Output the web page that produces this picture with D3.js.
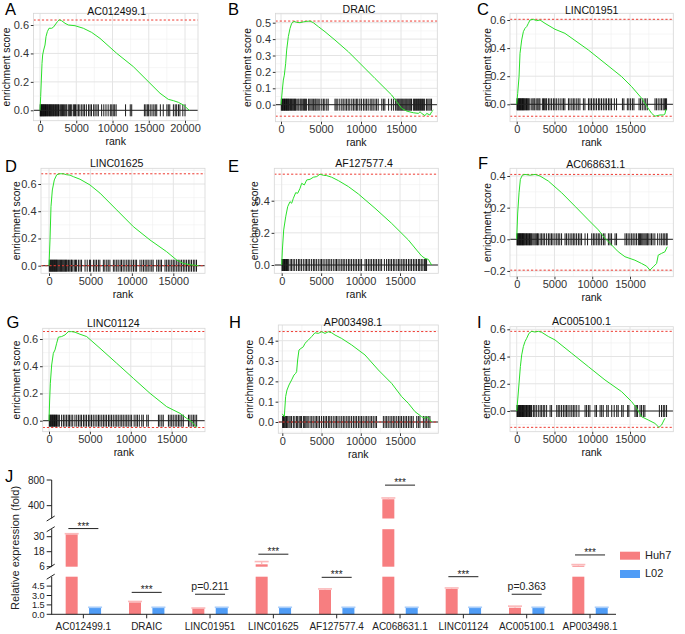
<!DOCTYPE html>
<html><head><meta charset="utf-8">
<script src="https://cdn.jsdelivr.net/npm/d3@7"></script>
<style>
body{margin:0;background:#fff;}
svg{display:block;}
</style></head><body>
<svg id="chart" width="685" height="634"></svg>
<script>
// ================= DATA =================
const gseaTitles = ["AC012499.1","DRAIC","LINC01951","LINC01625","AF127577.4","AC068631.1","LINC01124","AP003498.1","AC005100.1"];
const gseaLetters = ["A","B","C","D","E","F","G","H","I"];

// running enrichment score curves: [rank, ES]
const curveA = [[0,0],[92,0.096],[184,0.213],[276,0.33],[368,0.389],[506,0.424],[690,0.459],[828,0.518],[1012,0.553],[1241,0.577],[1609,0.577],[1839,0.584],[2069,0.6],[2391,0.623],[2667,0.637],[2989,0.63],[3449,0.612],[3908,0.6],[4828,0.595],[5977,0.577],[7127,0.548],[8276,0.506],[10575,0.401],[12874,0.307],[15173,0.19],[16553,0.12],[17702,0.077],[18392,0.068],[19082,0.056],[19771,0.037],[20599,0]];
const curveB = [[0,0],[167,0.089],[292,0.15],[417,0.18],[583,0.252],[708,0.333],[917,0.415],[1125,0.465],[1333,0.496],[1625,0.508],[1958,0.502],[2375,0.5],[2792,0.505],[3208,0.508],[3625,0.51],[4042,0.5],[4667,0.476],[5500,0.445],[6750,0.394],[8417,0.323],[9667,0.262],[11750,0.16],[13833,0.059],[14460,0.018],[15083,-0.022],[15710,-0.039],[16540,-0.049],[17170,-0.053],[17380,-0.043],[17590,-0.053],[18000,-0.067],[18210,-0.053],[18620,-0.063],[18830,-0.043],[19040,-0.033]];
const curveC = [[0,0],[132,0.078],[309,0.197],[441,0.363],[662,0.458],[882,0.517],[1102,0.541],[1323,0.553],[1543,0.576],[1764,0.6],[2205,0.605],[2646,0.595],[3087,0.6],[3750,0.576],[5070,0.534],[6390,0.505],[9480,0.387],[11690,0.292],[13890,0.197],[15215,0.126],[16540,0.043],[17200,-0.012],[17860,-0.064],[18300,-0.085],[18960,-0.076],[19400,-0.076],[19620,-0.07],[19760,-0.035]];
const curveD = [[0,0],[121,0.189],[241,0.434],[402,0.556],[643,0.63],[925,0.667],[1246,0.675],[1729,0.675],[2131,0.668],[2533,0.665],[2935,0.654],[3740,0.635],[4946,0.593],[6152,0.533],[8163,0.41],[10173,0.287],[12184,0.189],[14194,0.103],[15400,0.042],[16205,0.017],[17009,0.007],[17813,0.002],[18014,0]];
const curveE = [[0,0],[85,0.093],[254,0.218],[507,0.3],[760,0.363],[1056,0.394],[1268,0.384],[1479,0.415],[1775,0.45],[2028,0.446],[2324,0.477],[2535,0.508],[2873,0.498],[3169,0.529],[3592,0.533],[4014,0.546],[4437,0.55],[4859,0.565],[5281,0.558],[5704,0.556],[6338,0.546],[7183,0.525],[8450,0.488],[9718,0.442],[11830,0.353],[13943,0.259],[16055,0.156],[17111,0.093],[17745,0.056],[18168,0.041],[18590,0.035],[19013,0]];
const curveF = [[0,0],[132,0.166],[309,0.294],[485,0.379],[750,0.405],[1102,0.41],[1764,0.405],[2426,0.41],[3087,0.4],[4190,0.368],[5954,0.294],[7718,0.209],[9482,0.123],[10800,0.06],[11690,0.006],[12570,-0.036],[13450,-0.079],[14330,-0.11],[15650,-0.132],[16540,-0.153],[17200,-0.17],[17640,-0.195],[18080,-0.174],[18520,-0.153],[18740,-0.1],[19180,-0.089],[19620,-0.079],[19930,-0.047]];
const curveG = [[0,0],[82,0.152],[163,0.275],[326,0.409],[530,0.495],[734,0.52],[938,0.569],[1141,0.613],[1549,0.618],[1956,0.63],[2364,0.654],[2772,0.654],[3180,0.65],[3791,0.635],[4606,0.618],[6236,0.532],[8274,0.422],[10312,0.311],[12350,0.201],[14388,0.103],[16019,0.054],[16834,0.017],[17445,-0.007],[18056,-0.05]];
const curveH = [[0,0.04],[255,0.026],[425,0.125],[595,0.157],[850,0.182],[1190,0.207],[1487,0.231],[1700,0.239],[1827,0.248],[1955,0.305],[2125,0.354],[2379,0.362],[2677,0.37],[2889,0.387],[3314,0.403],[3739,0.42],[4164,0.439],[4589,0.436],[5014,0.444],[5439,0.436],[5864,0.444],[6289,0.439],[6713,0.428],[7563,0.411],[8838,0.379],[10537,0.33],[12237,0.256],[13937,0.19],[15212,0.125],[16061,0.092],[16911,0.051],[17761,0.026],[18186,0.018],[18400,0.026],[18696,0.018],[19036,0]];
const curveI = [[0,0],[132,0.081],[309,0.203],[485,0.326],[662,0.412],[882,0.473],[1102,0.51],[1323,0.534],[1632,0.571],[1985,0.585],[2426,0.58],[2867,0.585],[3308,0.578],[4190,0.547],[5070,0.522],[7277,0.424],[9482,0.326],[11687,0.228],[13891,0.142],[15214,0.069],[15876,0.02],[16538,-0.042],[17420,-0.066],[18300,-0.091],[18830,-0.12],[19180,-0.103],[19620,-0.054]];

// gene-set hit ranks
const hitsA = [30,90,160,230,300,380,450,520,600,680,760,850,930,1020,1100,1200,1300,1380,1470,1560,1650,1750,1850,1950,2050,2150,2250,2350,2450,2550,2650,2850,2950,3100,3250,3400,3550,3680,3900,4050,4200,4370,4600,4750,4900,5100,5300,5500,5750,5950,6150,6400,6700,6900,7100,7400,7600,7850,8050,8500,8800,9100,9400,9700,9900,10100,10300,10500,11800,12450,12650,14400,14600,14800,14950,15200,15450,15700,15900,16100,16600,17000,17500,17700,17900,18400,18650,18850,19100,19300,19700,20000];
const hitsB = [40,120,200,280,360,440,520,600,680,760,840,920,1000,1100,1200,1300,1400,1500,1600,1700,1800,1900,2100,2230,2400,2520,2650,2800,2950,3050,3200,3450,3600,3750,3900,4050,4230,4350,4500,4650,4850,5100,5300,5480,5720,5900,6750,6900,7100,7350,7600,7780,8000,8200,8400,8600,8850,9050,9250,9450,9600,9850,10050,10300,10500,10700,10900,11150,11350,11520,11750,11950,12150,12600,12800,12980,13450,13800,14050,14300,14480,14600,14720,14850,14980,15100,15220,15350,15480,15600,15720,15850,15980,16100,16220,16320,16550,16680,16800,16930,17050,17180,17300,17430,17550,17680,17800,17950,18180,18350,18500,18650,18820];
const hitsC = [40,120,200,280,360,440,520,600,680,760,840,920,1000,1100,1200,1300,1400,1500,1600,1750,2000,2150,2300,2420,2660,2800,2950,3080,3400,3550,3700,3850,3960,4200,4400,4620,4860,5050,5250,5500,5750,6000,6200,6380,6850,7050,7300,7500,7700,7950,8150,8370,8830,9030,9500,9700,9900,10150,10350,10570,10820,11000,11230,11470,11700,11900,12150,12350,12560,12930,13220,14000,14190,14650,14850,15080,15320,15520,16200,16400,16630,16870,17080,17290,18310,18500,18730,18970,19180,19390,19550,19700,19840];
const hitsD = [40,120,200,280,360,440,520,600,680,760,840,920,1000,1100,1200,1300,1400,1500,1600,1700,1800,1900,2000,2100,2200,2350,2500,2650,2720,2870,3050,3200,3330,3550,3750,3930,4350,4610,4880,5020,5360,5550,5740,5960,6140,6560,6740,6970,7150,7350,7770,7950,8170,8350,8580,8750,8950,9160,9380,9570,9760,9990,10200,10400,10570,10980,11200,11400,11600,11800,11970,12190,12400,12570,13000,13200,13400,13580,14000,14200,14400,14590,14810,15000,15190,15410,15600,15800,16000,16210,16400,16600,16820,17000,17200,17420,17600,17800];
const hitsE = [40,120,200,280,360,440,520,600,680,760,840,1070,1250,1450,1650,1890,2120,2300,2500,2740,2970,3150,3350,3550,3790,4020,4200,4400,4640,4870,5050,5250,5480,5710,5900,6100,6300,6540,6770,6950,7150,7380,7610,7800,8000,8230,8460,8650,8860,9090,9300,9500,9730,9930,10130,10570,10760,10990,11200,11400,11630,11830,12030,12260,12470,12670,13020,13300,13530,13730,13930,14160,14350,14590,14800,14990,15220,15420,15620,15830,16070,16270,16470,16700,16900,17100,17330,17500,17700,17900,18100,18250,18370];
const hitsF = [40,120,200,280,360,440,520,600,680,760,840,920,1000,1100,1200,1300,1400,1500,1600,1700,1800,1900,2000,2150,2300,2450,2600,2750,2860,3100,3300,3500,3700,3960,4200,4400,4600,4800,5060,5300,5500,5700,5940,6400,6600,6830,7070,7300,7500,7700,7930,8170,8380,8590,9050,9380,9930,10150,10350,10590,10800,11000,11240,11480,11680,12140,12350,12560,13020,13220,14340,14550,14750,14980,15220,15420,15650,15870,16110,16250,16400,16550,16700,16850,17000,17150,17300,17410,17650,17850,18050,18290,18660,18950,19190,19400,19600,19800,19920];
const hitsG = [40,120,200,280,360,440,520,600,680,760,840,920,1000,1130,1270,1540,1760,1950,2150,2350,2500,2700,2900,3170,3390,3600,3800,3980,4210,4400,4590,4820,5000,5200,5410,5630,5850,6050,6230,6450,6650,6850,7040,7270,7450,7650,7860,8080,8280,8470,8690,8890,9080,9300,9500,9690,9910,10100,10410,10630,10810,11040,11340,11530,11950,12140,13380,13560,13790,13970,14600,14800,15000,15190,15420,15620,15820,16010,16230,16420,17050,17230,17460,17650,17850,18050];
const hitsH = [40,150,260,370,480,550,690,850,1000,1180,1410,1600,1820,1960,2150,2300,2450,2690,2850,3000,3150,3300,3540,3750,3940,4170,4350,4550,4750,5000,5240,5450,5640,5870,6050,6250,6490,6720,6900,7100,7340,7570,7780,7980,8210,8400,8600,8830,9060,9270,9470,9700,9900,10100,10310,10550,10750,10950,11180,11380,11590,11820,12010,12880,13100,13300,13500,13730,13950,14150,14350,14580,14800,15000,15200,15430,15640,15840,16070,16280,16480,16690,17130,17340,17540,17980,18200,18400,18600,18810];
const hitsI = [40,120,200,280,360,440,520,600,680,760,840,920,1000,1100,1200,1300,1400,1500,1600,1700,1800,1900,1980,2210,2400,2600,2860,3100,3300,3520,3710,3960,4420,4620,5300,5500,5700,5940,6180,6400,6600,6800,7050,7290,7500,7710,7950,8240,9050,9250,9490,9690,10370,10570,11040,11250,11460,11920,12120,12580,12910,13240,13440,13900,14100,14690,14850,15660,15830,16000,16330,16530,16770,16970,18890,19170,19410,19600,19840];

// max / min enrichment score (dashed lines)
const esLinesA = [0.635];
const esLinesB = [0.51, -0.07];
const esLinesC = [0.605, -0.085];
const esLinesD = [0.675, 0];
const esLinesE = [0.565];
const esLinesF = [0.41, -0.195];
const esLinesG = [0.655, -0.05];
const esLinesH = [0.445, 0];
const esLinesI = [0.585, -0.12];

// axis tick values
const xTicksLong = [0,5000,10000,15000,20000];
const xTicksShort = [0,5000,10000,15000];
const yTicks6 = [0,0.2,0.4,0.6];
const yTicksB = [0,0.1,0.2,0.3,0.4,0.5];
const yTicksE = [0,0.2,0.4];
const yTicksF = [-0.2,0,0.2,0.4];
const yTicksH = [0,0.1,0.2,0.3,0.4];

// Panel J
const jCategories = ["AC012499.1","DRAIC","LINC01951","LINC01625","AF127577.4","AC068631.1","LINC01124","AC005100.1","AP003498.1"];
const seriesNames = ["Huh7","L02"];
const huh7Values = [31.9,1.9,0.95,7.9,3.9,500,4.05,1.05,6.8];
const huh7Errors = [0.5,0.15,0.05,2.2,0.15,20,0.15,0.25,0.9];
const l02Values = [1.0,1.0,1.0,1.0,1.0,1.0,1.0,1.0,1.0];
const l02Errors = [0.12,0.12,0.12,0.12,0.12,0.12,0.12,0.12,0.12];
const sigLabels = ["***","***","p=0.211","***","***","***","***","p=0.363","***"];
const sigLevels = [36.5,3.5,3.2,16,5.9,720,6.0,3.2,15.4];
const jTicksLow = [0,1.5,3,4.5];
const jTicksMid = [6,18,30];
const jTicksHigh = [400,800];

// ================= LAYOUT / STYLE =================
const FONT = "'Liberation Sans', Arial, Helvetica, sans-serif";
const GREEN = "#2ae02a";
const RED_DASH = "#ee3b32";
const BAR_RED = "#f77e80", BAR_BLUE = "#4f9cf6";
const CAP_RED = "#fbb9ba", CAP_BLUE = "#a9cdf9";

// rect:[left,top,right,bottom]; x0/x15: px of rank 0 and 15000; y0: px of ES 0; yRef/yRefPx: a reference ES and its px
const panelLayout = [
  {rect:[33.5,13.3,198,120.7], x0:40, x15:148.75, y0:110.3, yRef:0.6, yRefPx:25, letter:[5,15], title:[116.7,15], ylabX:10},
  {rect:[275.5,13.3,437.3,121.7], x0:281, x15:401, y0:104.7, yRef:0.5, yRefPx:22.7, letter:[228,15], title:[359,13], ylabX:251},
  {rect:[510,13.3,673.3,121.7], x0:516.7, x15:630, y0:104.3, yRef:0.6, yRefPx:20, letter:[477,15], title:[591.7,13.5], ylabX:490.5},
  {rect:[41,168.3,205,273.3], x0:49, x15:173.3, y0:265.7, yRef:0.6, yRefPx:184, letter:[5,172], title:[116.7,167.3], ylabX:19.5},
  {rect:[274.3,168.3,438.3,273.3], x0:281.7, x15:400, y0:265, yRef:0.4, yRefPx:200.7, letter:[228,172], title:[364,167.3], ylabX:257.5},
  {rect:[510,168.3,673.3,276.7], x0:516.7, x15:630, y0:239.3, yRef:0.4, yRefPx:176, letter:[478,169], title:[595.7,168], ylabX:491},
  {rect:[42.7,328.3,205,431.7], x0:49, x15:171.7, y0:420.7, yRef:0.6, yRefPx:339, letter:[6.5,328], title:[113.3,326.7], ylabX:20},
  {rect:[278.3,325,438.3,433.3], x0:282.3, x15:400, y0:422, yRef:0.4, yRefPx:340.7, letter:[229,328], title:[353,326], ylabX:252.5},
  {rect:[510,326.7,673.3,431.7], x0:516.7, x15:630, y0:411, yRef:0.6, yRefPx:329.3, letter:[477,328], title:[581.5,325], ylabX:490}
];

const panels = [
  {curve:curveA, hits:hitsA, lines:esLinesA, yTicks:yTicks6, xTicks:xTicksLong},
  {curve:curveB, hits:hitsB, lines:esLinesB, yTicks:yTicksB, xTicks:xTicksShort},
  {curve:curveC, hits:hitsC, lines:esLinesC, yTicks:yTicks6, xTicks:xTicksShort},
  {curve:curveD, hits:hitsD, lines:esLinesD, yTicks:yTicks6, xTicks:xTicksShort},
  {curve:curveE, hits:hitsE, lines:esLinesE, yTicks:yTicksE, xTicks:xTicksShort},
  {curve:curveF, hits:hitsF, lines:esLinesF, yTicks:yTicksF, xTicks:xTicksShort},
  {curve:curveG, hits:hitsG, lines:esLinesG, yTicks:yTicks6, xTicks:xTicksShort},
  {curve:curveH, hits:hitsH, lines:esLinesH, yTicks:yTicksH, xTicks:xTicksShort},
  {curve:curveI, hits:hitsI, lines:esLinesI, yTicks:yTicks6, xTicks:xTicksShort}
];

const svg = d3.select("#chart").attr("font-family", FONT);
svg.append("rect").attr("width",685).attr("height",634).attr("fill","#fff");
const defs = svg.append("defs");

function minorTicks(major, lo, hi) {
  const out = [];
  const step = major[1] - major[0];
  const first = major[0] - step/2, last = major[major.length-1] + step/2;
  for (let v = first; v <= last + 1e-9; v += step) {
    if (v > lo && v < hi) out.push(v);
  }
  return out;
}

panels.forEach((P, i) => {
  const L = panelLayout[i];
  const [l, t, r, b] = L.rect;
  const x = d3.scaleLinear().domain([0, 15000]).range([L.x0, L.x15]);
  const y = d3.scaleLinear().domain([0, L.yRef]).range([L.y0, L.yRefPx]);
  const g = svg.append("g");
  const clipId = "clip" + i;
  defs.append("clipPath").attr("id", clipId).append("rect")
    .attr("x", l).attr("y", t).attr("width", r - l).attr("height", b - t);

  g.append("rect").attr("x", l).attr("y", t).attr("width", r - l).attr("height", b - t).attr("fill", "#fff");

  const xDom = [x.invert(l), x.invert(r)];
  const yDom = [y.invert(b), y.invert(t)];
  const gridG = g.append("g").attr("clip-path", `url(#${clipId})`);
  minorTicks(P.xTicks, xDom[0], xDom[1]).forEach(v => {
    gridG.append("line").attr("x1", x(v)).attr("x2", x(v)).attr("y1", t).attr("y2", b)
      .attr("stroke", "#f0f0f0").attr("stroke-width", 0.6);
  });
  minorTicks(P.yTicks, yDom[0], yDom[1]).forEach(v => {
    gridG.append("line").attr("x1", l).attr("x2", r).attr("y1", y(v)).attr("y2", y(v))
      .attr("stroke", "#f0f0f0").attr("stroke-width", 0.6);
  });
  P.xTicks.forEach(v => {
    gridG.append("line").attr("x1", x(v)).attr("x2", x(v)).attr("y1", t).attr("y2", b)
      .attr("stroke", "#e4e4e4").attr("stroke-width", 1);
  });
  P.yTicks.forEach(v => {
    gridG.append("line").attr("x1", l).attr("x2", r).attr("y1", y(v)).attr("y2", y(v))
      .attr("stroke", "#e4e4e4").attr("stroke-width", 1);
  });

  const plotG = g.append("g").attr("clip-path", `url(#${clipId})`);
  plotG.selectAll("line.hit").data(P.hits).join("line").attr("class", "hit")
    .attr("x1", d => x(d)).attr("x2", d => x(d))
    .attr("y1", y(0) - 6).attr("y2", y(0) + 6)
    .attr("stroke", "#000").attr("stroke-width", 0.9);
  plotG.append("line").attr("x1", l).attr("x2", r).attr("y1", y(0)).attr("y2", y(0))
    .attr("stroke", "#222").attr("stroke-width", 1);
  P.lines.forEach(v => {
    plotG.append("line").attr("x1", l).attr("x2", r).attr("y1", y(v)).attr("y2", y(v))
      .attr("stroke", RED_DASH).attr("stroke-width", 1).attr("stroke-dasharray", "2.2,2");
  });
  plotG.append("path").datum(P.curve)
    .attr("d", d3.line().x(d => x(d[0])).y(d => y(d[1])))
    .attr("fill", "none").attr("stroke", GREEN).attr("stroke-width", 1);

  g.append("rect").attr("x", l).attr("y", t).attr("width", r - l).attr("height", b - t)
    .attr("fill", "none").attr("stroke", "#d6d6d6").attr("stroke-width", 0.8);

  const xAxis = d3.axisBottom(x).tickValues(P.xTicks).tickSize(2.7).tickPadding(1.3).tickFormat(d3.format("d"));
  g.append("g").attr("transform", `translate(0,${b})`).call(xAxis)
    .attr("font-family", FONT).attr("font-size", 11)
    .call(a => a.select(".domain").remove())
    .call(a => a.selectAll("line").attr("stroke", "#333"))
    .call(a => a.selectAll("text").attr("fill", "#333"));
  const yAxis = d3.axisLeft(y).tickValues(P.yTicks).tickSize(2.7).tickPadding(1.8).tickFormat(d3.format(".1f"));
  g.append("g").attr("transform", `translate(${l},0)`).call(yAxis)
    .attr("font-family", FONT).attr("font-size", 11)
    .call(a => a.select(".domain").remove())
    .call(a => a.selectAll("line").attr("stroke", "#333"))
    .call(a => a.selectAll("text").attr("fill", "#333"));

  g.append("text").attr("x", L.title[0]).attr("y", L.title[1]).attr("text-anchor", "middle")
    .attr("font-size", 10.6).attr("fill", "#111").text(gseaTitles[i]);
  g.append("text").attr("x", (l + r) / 2).attr("y", b + 24.5).attr("text-anchor", "middle")
    .attr("font-size", 10.5).attr("fill", "#111").text("rank");
  g.append("text").attr("transform", `translate(${L.ylabX},${(t + b) / 2}) rotate(-90)`)
    .attr("text-anchor", "middle").attr("font-size", 10.3).attr("fill", "#111").text("enrichment score");
  g.append("text").attr("x", L.letter[0]).attr("y", L.letter[1])
    .attr("font-size", 16.5).attr("fill", "#000").text(gseaLetters[i]);
});

// ================= PANEL J =================
const jx = d3.scaleBand().domain(jCategories).range([51.7, 621.7]);
const jsub = d3.scalePoint().domain(seriesNames).range([-11.7, 11.7]);
const segLow = d3.scaleLinear().domain([0, 6]).range([614.3, 576.7]);
const segMid = d3.scaleLinear().domain([6, 36]).range([566.7, 529.2]);
const segHigh = d3.scaleLinear().domain([200, 800]).range([518.5, 480]);
const yJ = v => v <= 6 ? segLow(v) : (v <= 100 ? segMid(v) : segHigh(v));
const color = d3.scaleOrdinal().domain(seriesNames).range([BAR_RED, BAR_BLUE]);
const capColor = d3.scaleOrdinal().domain(seriesNames).range([CAP_RED, CAP_BLUE]);
const axisX = 51.7;
const jG = svg.append("g");
const barW = 12;

const barData = [];
jCategories.forEach((c, i) => {
  barData.push({cat: c, s: "Huh7", v: huh7Values[i], e: huh7Errors[i]});
  barData.push({cat: c, s: "L02", v: l02Values[i], e: l02Errors[i]});
});

barData.forEach(d => {
  const cx = jx(d.cat) + jx.bandwidth() / 2 + jsub(d.s);
  const pieces = [[segLow(0), segLow(Math.min(d.v, 6))]];
  if (d.v > 6) pieces.push([segMid(6), segMid(Math.min(d.v, 36))]);
  if (d.v > 200) pieces.push([segHigh(200), segHigh(Math.min(d.v, 800))]);
  pieces.forEach(([y1, y2]) => {
    jG.append("rect").attr("x", cx - barW / 2).attr("y", y2).attr("width", barW).attr("height", y1 - y2)
      .attr("fill", color(d.s));
  });
  const top = yJ(d.v), capY = yJ(d.v + d.e);
  jG.append("line").attr("x1", cx).attr("x2", cx).attr("y1", top).attr("y2", capY)
    .attr("stroke", capColor(d.s)).attr("stroke-width", 1.3);
  jG.append("line").attr("x1", cx - 7).attr("x2", cx + 7).attr("y1", capY).attr("y2", capY)
    .attr("stroke", capColor(d.s)).attr("stroke-width", 1.6);
});

const axisColor = "#222";
[[segLow, jTicksLow], [segMid, jTicksMid], [segHigh, jTicksHigh]].forEach(([sc, ticks], k) => {
  const rg = sc.range();
  jG.append("line").attr("x1", axisX).attr("x2", axisX).attr("y1", rg[0] + (k === 0 ? 0.5 : 0)).attr("y2", rg[1])
    .attr("stroke", axisColor).attr("stroke-width", 1);
  ticks.forEach(v => {
    jG.append("line").attr("x1", axisX - 5).attr("x2", axisX).attr("y1", sc(v)).attr("y2", sc(v))
      .attr("stroke", axisColor).attr("stroke-width", 1);
    jG.append("text").attr("x", axisX - 7).attr("y", sc(v)).attr("dy", "0.35em").attr("text-anchor", "end")
      .attr("font-size", k === 0 ? 9.2 : 10).attr("fill", "#222").text(k === 0 ? d3.format(".1f")(v) : v);
  });
});
[segLow.range()[1], segMid.range()[0], segMid.range()[1], segHigh.range()[0]].forEach(yb => {
  jG.append("line").attr("x1", axisX - 5).attr("x2", axisX + 3).attr("y1", yb + 2.5).attr("y2", yb - 2.5)
    .attr("stroke", axisColor).attr("stroke-width", 1);
});
jG.append("line").attr("x1", axisX).attr("x2", 616).attr("y1", segLow(0)).attr("y2", segLow(0))
  .attr("stroke", axisColor).attr("stroke-width", 1);
jCategories.forEach(c => {
  const cx = jx(c) + jx.bandwidth() / 2;
  jG.append("line").attr("x1", cx).attr("x2", cx).attr("y1", segLow(0)).attr("y2", segLow(0) + 4)
    .attr("stroke", axisColor).attr("stroke-width", 1);
  jG.append("text").attr("x", cx).attr("y", 630).attr("text-anchor", "middle")
    .attr("font-size", 10).attr("fill", "#222").text(c);
});
jCategories.forEach((c, i) => {
  const cx = jx(c) + jx.bandwidth() / 2;
  const ly = yJ(sigLevels[i]);
  jG.append("line").attr("x1", cx - 15).attr("x2", cx + 15).attr("y1", ly).attr("y2", ly)
    .attr("stroke", "#222").attr("stroke-width", 1);
  const isStar = sigLabels[i].startsWith("*");
  jG.append("text").attr("x", cx).attr("y", isStar ? ly + 1 : ly - 4.5).attr("text-anchor", "middle")
    .attr("font-size", isStar ? 10 : 10.5).attr("fill", "#222").text(sigLabels[i]);
});
jG.append("text").attr("transform", "translate(18.5,548) rotate(-90)").attr("text-anchor", "middle")
  .attr("font-size", 11).attr("fill", "#222").text("Relative expression (fold)");
jG.append("text").attr("x", 5).attr("y", 482).attr("font-size", 16.5).attr("fill", "#000").text("J");
seriesNames.forEach((s, k) => {
  const ly = 551.7 + k * 18.3;
  jG.append("rect").attr("x", 620).attr("y", ly).attr("width", 20).attr("height", 8)
    .attr("fill", color(s));
  jG.append("text").attr("x", 645).attr("y", ly + 7).attr("font-size", 11).attr("fill", "#222").text(s);
});
</script>
</body></html>
